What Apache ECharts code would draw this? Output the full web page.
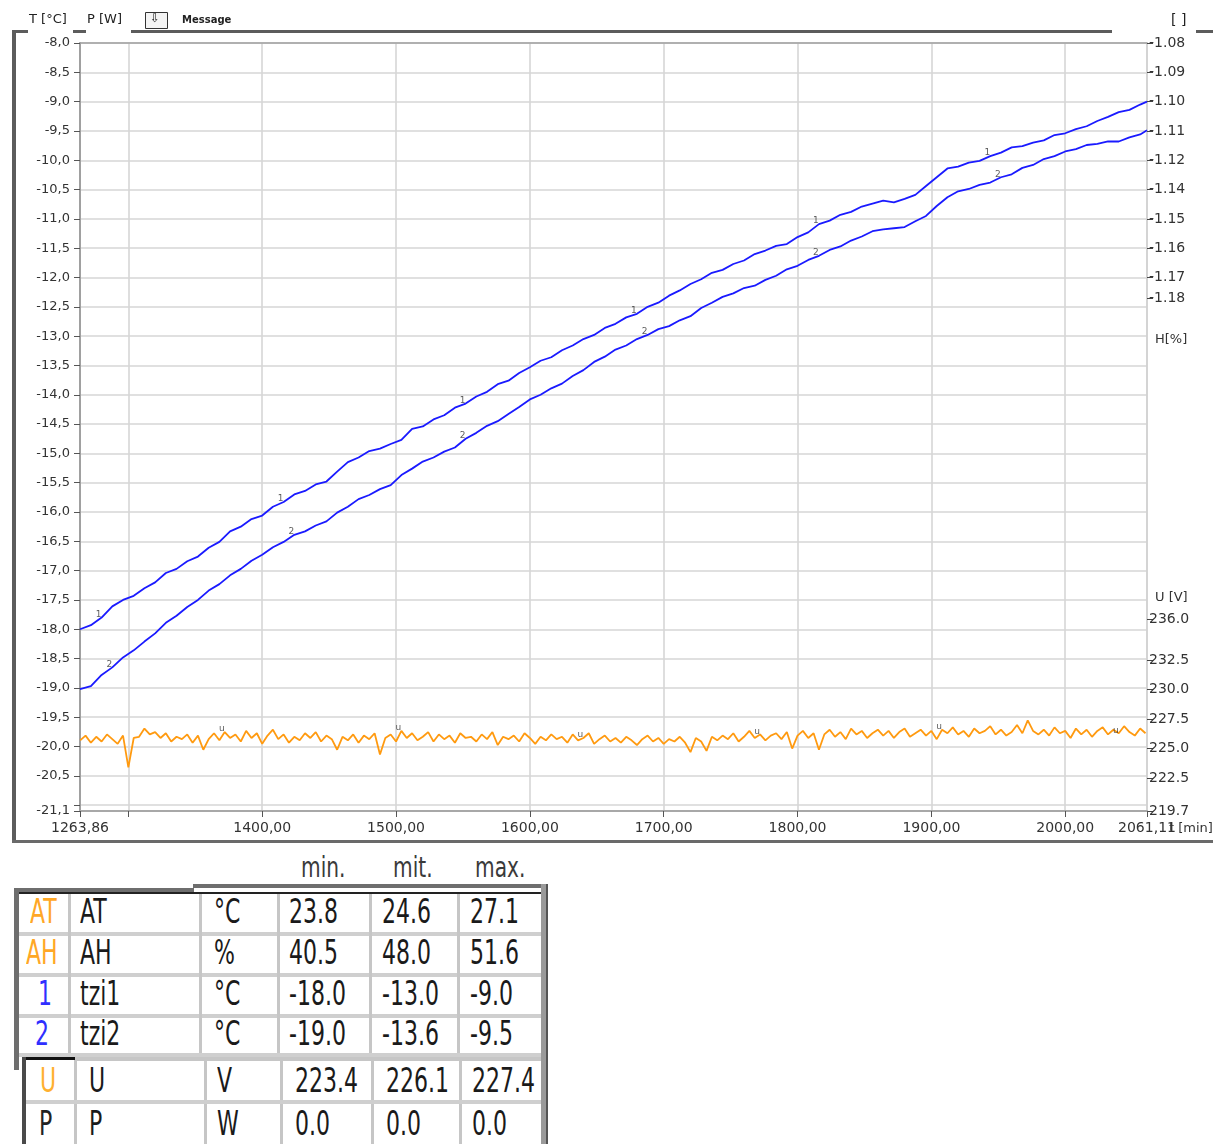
<!DOCTYPE html>
<html>
<head>
<meta charset="utf-8">
<script src="https://cdn.jsdelivr.net/npm/echarts@6/dist/echarts.min.js"></script>
<style>
  body { margin: 0; background: #fff; width: 1213px; height: 1144px; overflow: hidden; position: relative; }
  #chart { position: absolute; left: 0; top: 0; width: 1213px; height: 850px; }
  .bx { position: absolute; }
  .tx { position: absolute; white-space: nowrap; font-family: 'Liberation Sans Narrow', 'DejaVu Sans Condensed', sans-serif;
        color: #1a1a1a; transform-origin: left center; line-height: 1; }
</style>
</head>
<body>
<div id="chart"></div>
<script>
// time axis (min)
const tBlue = [1263.86, 1272, 1280, 1288, 1296, 1304, 1312, 1320, 1328, 1336, 1344, 1352, 1360, 1368, 1376, 1384, 1392,
  1400, 1408, 1416, 1424, 1432, 1440, 1448, 1456, 1464, 1472, 1480, 1488, 1496, 1504, 1512, 1520, 1528, 1536, 1544,
  1552, 1560, 1568, 1576, 1584, 1592, 1600, 1608, 1616, 1624, 1632, 1640, 1648, 1656, 1664, 1672, 1680, 1688, 1696,
  1704, 1712, 1720, 1728, 1736, 1744, 1752, 1760, 1768, 1776, 1784, 1792, 1800, 1808, 1816, 1824, 1832, 1840, 1848,
  1856, 1864, 1872, 1880, 1888, 1896, 1904, 1912, 1920, 1928, 1936, 1944, 1952, 1960, 1968, 1976, 1984, 1992, 2000,
  2008, 2016, 2024, 2032, 2040, 2048, 2056, 2061.11];

// tzi1 [°C]
const tzi1 = [-18.00, -17.93, -17.80, -17.61, -17.50, -17.43, -17.30, -17.20, -17.04, -16.97, -16.84, -16.76, -16.61,
  -16.51, -16.33, -16.25, -16.12, -16.06, -15.91, -15.83, -15.70, -15.64, -15.53, -15.48, -15.31, -15.15, -15.07,
  -14.96, -14.92, -14.84, -14.77, -14.58, -14.54, -14.42, -14.35, -14.22, -14.15, -14.03, -13.95, -13.82, -13.76,
  -13.63, -13.53, -13.42, -13.36, -13.24, -13.16, -13.05, -12.98, -12.86, -12.79, -12.68, -12.62, -12.50, -12.43,
  -12.31, -12.22, -12.11, -12.03, -11.92, -11.87, -11.77, -11.71, -11.60, -11.54, -11.46, -11.43, -11.31, -11.23,
  -11.09, -11.03, -10.93, -10.88, -10.79, -10.74, -10.69, -10.72, -10.66, -10.59, -10.44, -10.29, -10.14, -10.11,
  -10.04, -10.01, -9.93, -9.87, -9.78, -9.76, -9.70, -9.66, -9.57, -9.54, -9.47, -9.42, -9.33, -9.26, -9.18, -9.14,
  -9.05, -9.00];

// tzi2 [°C]
const tzi2 = [-19.02, -18.97, -18.78, -18.65, -18.48, -18.36, -18.21, -18.07, -17.89, -17.77, -17.62, -17.50, -17.34,
  -17.23, -17.08, -16.97, -16.83, -16.73, -16.60, -16.51, -16.39, -16.33, -16.23, -16.16, -16.01, -15.91, -15.78,
  -15.71, -15.61, -15.54, -15.37, -15.26, -15.14, -15.07, -14.97, -14.90, -14.75, -14.65, -14.53, -14.45, -14.33,
  -14.21, -14.08, -14.00, -13.89, -13.81, -13.68, -13.58, -13.44, -13.35, -13.23, -13.16, -13.05, -12.98, -12.88,
  -12.83, -12.73, -12.66, -12.52, -12.43, -12.33, -12.27, -12.18, -12.14, -12.04, -11.97, -11.86, -11.80, -11.70,
  -11.63, -11.53, -11.47, -11.37, -11.30, -11.21, -11.18, -11.16, -11.14, -11.04, -10.95, -10.78, -10.63, -10.53,
  -10.49, -10.42, -10.38, -10.29, -10.24, -10.13, -10.08, -9.98, -9.93, -9.85, -9.81, -9.74, -9.72, -9.68, -9.68,
  -9.61, -9.56, -9.49];

// U time axis (min)
const tU = [
  1264, 1268, 1272, 1276, 1280, 1284, 1288, 1292, 1296, 1300,
  1304, 1308, 1312, 1316, 1320, 1324, 1328, 1332, 1336, 1340,
  1344, 1348, 1352, 1356, 1360, 1364, 1368, 1372, 1376, 1380,
  1384, 1388, 1392, 1396, 1400, 1404, 1408, 1412, 1416, 1420,
  1424, 1428, 1432, 1436, 1440, 1444, 1448, 1452, 1456, 1460,
  1464, 1468, 1472, 1476, 1480, 1484, 1488, 1492, 1496, 1500,
  1504, 1508, 1512, 1516, 1520, 1524, 1528, 1532, 1536, 1540,
  1544, 1548, 1552, 1556, 1560, 1564, 1568, 1572, 1576, 1580,
  1584, 1588, 1592, 1596, 1600, 1604, 1608, 1612, 1616, 1620,
  1624, 1628, 1632, 1636, 1640, 1644, 1648, 1652, 1656, 1660,
  1664, 1668, 1672, 1676, 1680, 1684, 1688, 1692, 1696, 1700,
  1704, 1708, 1712, 1716, 1720, 1724, 1728, 1732, 1736, 1740,
  1744, 1748, 1752, 1756, 1760, 1764, 1768, 1772, 1776, 1780,
  1784, 1788, 1792, 1796, 1800, 1804, 1808, 1812, 1816, 1820,
  1824, 1828, 1832, 1836, 1840, 1844, 1848, 1852, 1856, 1860,
  1864, 1868, 1872, 1876, 1880, 1884, 1888, 1892, 1896, 1900,
  1904, 1908, 1912, 1916, 1920, 1924, 1928, 1932, 1936, 1940,
  1944, 1948, 1952, 1956, 1960, 1964, 1968, 1972, 1976, 1980,
  1984, 1988, 1992, 1996, 2000, 2004, 2008, 2012, 2016, 2020,
  2024, 2028, 2032, 2036, 2040, 2044, 2048, 2052, 2056, 2060];

// U [V]
const uVals = [
  225.7, 226.1, 225.5, 226.0, 225.6, 226.2, 225.8, 225.4, 226.1, 223.4,
  225.9, 226.0, 226.7, 226.2, 226.4, 225.9, 226.3, 225.6, 226.0, 225.8,
  226.2, 225.5, 226.1, 224.9, 225.8, 226.3, 225.7, 226.4, 225.9, 226.2,
  225.6, 226.5, 225.9, 226.3, 225.4, 226.1, 226.6, 225.8, 226.2, 225.5,
  226.0, 225.7, 226.3, 225.9, 226.4, 225.6, 226.1, 225.8, 224.9, 226.0,
  225.7, 226.2, 225.5, 226.1, 225.8, 226.3, 224.5, 225.9, 226.2, 225.6,
  226.5, 225.9, 226.3, 225.7, 226.0, 226.4, 225.6, 226.2, 225.8, 226.1,
  225.5, 226.3, 225.9, 226.0, 225.6, 226.2, 225.8, 226.4, 225.3, 226.0,
  225.8, 226.1, 225.6, 226.3, 225.9, 225.4, 226.0, 225.7, 226.2, 225.8,
  226.0, 225.5, 226.2, 225.7, 225.9, 226.3, 225.4, 225.8, 226.1, 225.6,
  225.9, 225.5, 226.0, 225.7, 225.3, 225.8, 226.1, 225.6, 225.9, 225.4,
  225.8, 225.6, 226.0, 225.5, 224.7, 225.9, 225.6, 224.8, 226.0, 225.7,
  226.1, 225.8, 226.3, 225.6, 226.0, 226.5, 225.9, 226.2, 225.7, 226.1,
  226.3, 225.8, 226.4, 225.0, 226.1, 226.5, 225.9, 226.3, 224.9, 226.2,
  226.6, 226.0, 226.4, 225.8, 226.7, 226.2, 226.5, 225.9, 226.3, 226.6,
  226.1, 226.5, 225.9, 226.4, 226.7, 226.0, 226.3, 226.6, 226.1, 226.5,
  225.8, 226.6, 226.3, 226.8, 226.2, 226.5, 226.0, 226.7, 226.3, 226.5,
  226.9, 226.2, 226.6, 226.1, 226.4, 227.0, 226.3, 227.4, 226.5, 226.2,
  226.6, 226.1, 226.8, 226.3, 226.5, 225.9, 226.7, 226.2, 226.6, 226.0,
  226.5, 226.8, 226.2, 226.6, 226.3, 226.9, 226.4, 226.1, 226.7, 226.3];

// curve tags (indices into the arrays above)
const tag1Idx = [2, 19, 36, 52, 69, 85];
const tag2Idx = [3, 20, 36, 53, 69, 86];
const tagUIdx = [27, 60, 94, 127, 161, 194];

// axes
const tMin = 1263.86, tMax = 2061.11;
const xTicks = [1263.86, 1300, 1400, 1500, 1600, 1700, 1800, 1900, 2000, 2061.11];
const xLabels = [1263.86, 1400, 1500, 1600, 1700, 1800, 1900, 2000, 2061.11];
const tempTicks = [-8.0, -8.5, -9.0, -9.5, -10.0, -10.5, -11.0, -11.5, -12.0, -12.5, -13.0, -13.5, -14.0, -14.5,
  -15.0, -15.5, -16.0, -16.5, -17.0, -17.5, -18.0, -18.5, -19.0, -19.5, -20.0, -20.5, -21.0, -21.1];
const tempLabels = [-8.0, -8.5, -9.0, -9.5, -10.0, -10.5, -11.0, -11.5, -12.0, -12.5, -13.0, -13.5, -14.0, -14.5,
  -15.0, -15.5, -16.0, -16.5, -17.0, -17.5, -18.0, -18.5, -19.0, -19.5, -20.0, -20.5, -21.1];
const uTicks = [219.7, 222.5, 225.0, 227.5, 230.0, 232.5, 236.0];
const hTickPos = [-8.0, -8.5, -9.0, -9.5, -10.0, -10.5, -11.0, -11.5, -12.0, -12.35];
const hLabels = ['-1.08', '-1.09', '-1.10', '-1.11', '-1.12', '-1.14', '-1.15', '-1.16', '-1.17', '-1.18'];

// table
const tblSym = ['AT', 'AH', '1', '2', 'U', 'P'];
const tblName = ['AT', 'AH', 'tzi1', 'tzi2', 'U', 'P'];
const tblUnit = ['°C', '%', '°C', '°C', 'V', 'W'];
const tblMin = ['23.8', '40.5', '-18.0', '-19.0', '223.4', '0.0'];
const tblMit = ['24.6', '48.0', '-13.0', '-13.6', '226.1', '0.0'];
const tblMax = ['27.1', '51.6', '-9.0', '-9.5', '227.4', '0.0'];
const tblHead = ['min.', 'mit.', 'max.'];

const BLUE = '#1a1aff';
const ORANGE = '#ff9a10';
const FONT = 'DejaVu Sans';

const chart = echarts.init(document.getElementById('chart'), null, { renderer: 'canvas' });

function near(arr, v) {
  let best = 0;
  arr.forEach((a, i) => { if (Math.abs(a - v) < Math.abs(arr[best] - v)) best = i; });
  return best;
}

const tagLabel = (txt) => ({
  show: true, formatter: txt, position: 'top', distance: 0, offset: [-3, 2],
  fontFamily: FONT, fontSize: 9, color: '#333'
});

const option = {
  animation: false,
  backgroundColor: '#fff',
  grid: { left: 80, top: 43, width: 1067, height: 768 },
  xAxis: [{
    type: 'value', min: tMin, max: tMax,
    axisLine: { show: true, lineStyle: { color: '#a8a8a8', width: 2 } },
    axisTick: { show: true, length: 6, customValues: xTicks, lineStyle: { color: '#555' } },
    axisLabel: {
      customValues: xLabels, margin: 10, fontFamily: FONT, fontSize: 14, color: '#333',
      formatter: v => v.toFixed(2).replace('.', ',')
    },
    splitLine: { show: true, lineStyle: { color: '#d6d6d6', width: 1.6 } }
  }, {
    type: 'value', min: tMin, max: tMax, position: 'top',
    axisLine: { show: true, lineStyle: { color: '#a0a0a0', width: 1.5 } },
    axisTick: { show: false }, axisLabel: { show: false }, splitLine: { show: false }
  }],
  yAxis: [{
    type: 'value', min: -21.1, max: -8, position: 'left',
    axisLine: { show: true, lineStyle: { color: '#a0a0a0', width: 2 } },
    axisTick: { show: true, length: 6, customValues: tempTicks, lineStyle: { color: '#555' } },
    axisLabel: {
      customValues: tempLabels, margin: 10, fontFamily: FONT, fontSize: 13, color: '#333',
      formatter: v => v.toFixed(1).replace('.', ',')
    },
    splitLine: { show: true, lineStyle: { color: '#d6d6d6', width: 1.6 } }
  }, {
    type: 'value', min: 219.7, max: 284.9, position: 'right',
    axisLine: { show: true, lineStyle: { color: '#d0d0d0', width: 1.5 } },
    axisTick: { show: true, length: 6, customValues: uTicks, lineStyle: { color: '#444' } },
    axisLabel: {
      customValues: uTicks, margin: 2, fontFamily: FONT, fontSize: 14, color: '#333',
      formatter: v => v.toFixed(1)
    },
    splitLine: { show: false }
  }, {
    type: 'value', min: -21.1, max: -8, position: 'right',
    axisLine: { show: false },
    axisTick: { show: true, length: 6, customValues: hTickPos, lineStyle: { color: '#444' } },
    axisLabel: {
      customValues: hTickPos, margin: 2, fontFamily: FONT, fontSize: 14, color: '#333',
      formatter: v => hLabels[near(hTickPos, v)]
    },
    splitLine: { show: false }
  }],
  graphic: [
    // frame
    { type: 'rect', shape: { x: 12, y: 30, width: 4, height: 813 }, style: { fill: '#5c5c5c' } },
    { type: 'rect', shape: { x: 12, y: 840, width: 1201, height: 3 }, style: { fill: '#6a6a6a' } },
    { type: 'rect', shape: { x: 12, y: 30, width: 16, height: 3 }, style: { fill: '#5c5c5c' } },
    { type: 'rect', shape: { x: 73, y: 30, width: 13, height: 3 }, style: { fill: '#5c5c5c' } },
    { type: 'rect', shape: { x: 131, y: 30, width: 981, height: 3 }, style: { fill: '#5c5c5c' } },
    { type: 'rect', shape: { x: 1196, y: 30, width: 17, height: 3 }, style: { fill: '#5c5c5c' } },
    // header
    { type: 'text', left: 29, top: 13, style: { text: 'T [°C]', font: '13px DejaVu Sans', fill: '#222' } },
    { type: 'text', left: 87, top: 13, style: { text: 'P [W]', font: '13px DejaVu Sans', fill: '#222' } },
    { type: 'rect', shape: { x: 145.5, y: 12.5, width: 22, height: 16 }, style: { fill: '#f4f4f4', stroke: '#333', lineWidth: 1 } },
    { type: 'text', left: 150, top: 13, style: { text: '⇩', font: '12px DejaVu Sans', fill: '#222' } },
    { type: 'text', left: 182, top: 15, style: { text: 'Message', font: 'bold 10px DejaVu Sans', fill: '#222' } },
    { type: 'text', left: 1171, top: 13, style: { text: '[ ]', font: '14px DejaVu Sans', fill: '#222' } },
    { type: 'text', left: 1155, top: 333, style: { text: 'H[%]', font: '13px DejaVu Sans', fill: '#333' } },
    { type: 'text', left: 1155, top: 591, style: { text: 'U [V]', font: '13px DejaVu Sans', fill: '#333' } },
    { type: 'text', left: 1169, top: 822, style: { text: 't [min]', font: '13px DejaVu Sans', fill: '#333' } }
  ],
  series: [{
    name: 'tzi1', type: 'line', xAxisIndex: 0, yAxisIndex: 0,
    data: tBlue.map((t, i) => [t, tzi1[i]]),
    showSymbol: false, lineStyle: { color: BLUE, width: 1.8 }, z: 3
  }, {
    name: 'tzi2', type: 'line', xAxisIndex: 0, yAxisIndex: 0,
    data: tBlue.map((t, i) => [t, tzi2[i]]),
    showSymbol: false, lineStyle: { color: BLUE, width: 1.8 }, z: 3
  }, {
    name: 'U', type: 'line', xAxisIndex: 0, yAxisIndex: 1,
    data: tU.map((t, i) => [t, uVals[i]]),
    showSymbol: false, lineStyle: { color: ORANGE, width: 1.8 }, z: 2
  }, {
    type: 'scatter', yAxisIndex: 0, silent: true, symbolSize: 1, itemStyle: { color: 'rgba(0,0,0,0)' },
    data: tag1Idx.map(i => [tBlue[i], tzi1[i]]), label: tagLabel('1'), z: 4
  }, {
    type: 'scatter', yAxisIndex: 0, silent: true, symbolSize: 1, itemStyle: { color: 'rgba(0,0,0,0)' },
    data: tag2Idx.map(i => [tBlue[i], tzi2[i]]), label: tagLabel('2'), z: 4
  }, {
    type: 'scatter', yAxisIndex: 1, silent: true, symbolSize: 1, itemStyle: { color: 'rgba(0,0,0,0)' },
    data: tagUIdx.map(i => [tU[i], uVals[i]]), label: tagLabel('u'), z: 4
  }]
};

chart.setOption(option);

// ---- table below the chart ----
function box(l, t, w, h, bg) {
  const d = document.createElement('div');
  d.className = 'bx';
  d.style.cssText = `left:${l}px;top:${t}px;width:${w}px;height:${h}px;background:${bg}`;
  document.body.appendChild(d);
}
function txt(s, l, cy, size, color, sx) {
  const d = document.createElement('div');
  d.className = 'tx';
  d.textContent = s;
  d.style.left = l + 'px';
  d.style.top = (cy - size * 0.55) + 'px';
  d.style.fontSize = size + 'px';
  d.style.transform = 'scaleX(' + sx + ')';
  if (color) d.style.color = color;
  document.body.appendChild(d);
}

// header
const headX = [301, 393, 475];
tblHead.forEach((h, i) => txt(h, headX[i], 869, 28, '#3a3a3a', 0.8));

// group 1 frame
box(14, 888, 5, 182, '#6e6e6e');
box(14, 888, 180, 4, '#6e6e6e');
box(193, 884, 355, 4, '#6e6e6e');
box(19, 892, 525, 2, '#222');
box(541, 884, 6, 260, '#9a9a9a');
box(546, 884, 2, 260, '#555');
[932, 973, 1014].forEach(y => box(19, y, 522, 4, '#cfcfcf'));
[68, 199, 277, 369, 457].forEach(x => box(x, 894, 3, 160, '#c6c6c6'));
box(19, 1053, 522, 4, '#cfcfcf');
// group 2 frame
box(23, 1057, 52, 3, '#111');
box(75, 1057, 466, 4, '#c6c6c6');
box(22, 1057, 4, 87, '#4a4a4a');
[74, 204, 280, 371, 459].forEach(x => box(x, 1060, 3, 84, '#c6c6c6'));
box(26, 1100, 515, 4, '#cfcfcf');

const symColor = ['#ffa726', '#ffa726', '#2f2fff', '#2f2fff', '#ffb030', '#222'];
const rowCY = [913, 954, 995, 1035, 1082, 1125];
const g1 = { sym: [30, 26, 38, 35], name: 80, unit: 214, min: 289, mit: 382, max: 470 };
const g2 = { sym: [40, 39], name: 89, unit: 217, min: 295, mit: 386, max: 472 };
tblSym.forEach((s, i) => {
  const g = i < 4 ? g1 : g2;
  const k = i < 4 ? i : i - 4;
  const cy = rowCY[i];
  txt(s, g.sym[k], cy, 34, symColor[i], 0.72);
  txt(tblName[i], g.name, cy, 34, null, 0.72);
  txt(tblUnit[i], g.unit, cy, 34, null, 0.72);
  txt(tblMin[i], g.min, cy, 34, null, 0.72);
  txt(tblMit[i], g.mit, cy, 34, null, 0.72);
  txt(tblMax[i], g.max, cy, 34, null, 0.72);
});
</script>
</body>
</html>
